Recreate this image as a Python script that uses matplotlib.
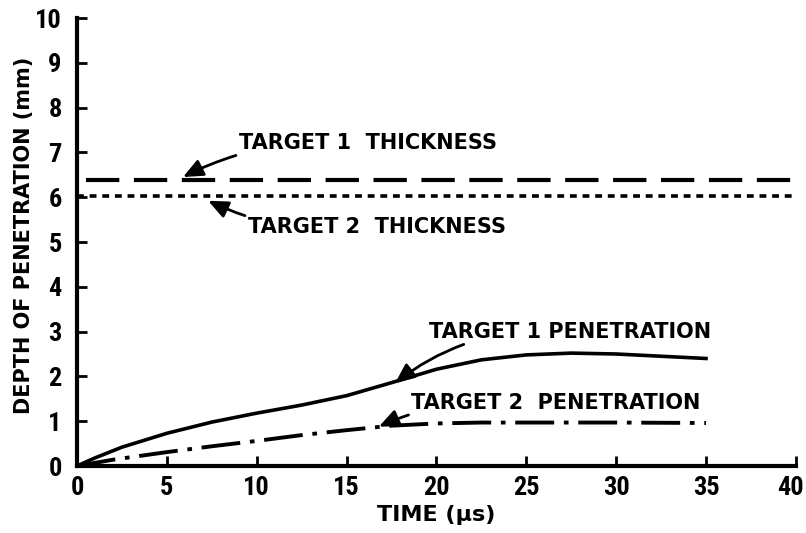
import matplotlib
matplotlib.use("Agg")
import matplotlib.pyplot as plt
from matplotlib.transforms import ScaledTranslation

# values
t1_time = [0, 1, 2.5, 5, 7.5, 10, 12.5, 15, 17.5, 20, 22.5, 25, 27.5, 30, 32.5, 35]
t1_depth = [0, 0.18, 0.42, 0.73, 0.98, 1.18, 1.36, 1.57, 1.86, 2.16, 2.37, 2.48, 2.52, 2.50, 2.45, 2.40]
t2_time = [0, 2, 5, 7.5, 10, 12.5, 15, 17.5, 20, 22.5, 25, 30, 35]
t2_depth = [0, 0.14, 0.31, 0.44, 0.56, 0.69, 0.80, 0.90, 0.95, 0.97, 0.97, 0.97, 0.96]
thick1 = 6.38
thick2 = 6.02
x_ticks = [0, 5, 10, 15, 20, 25, 30, 35, 40]
y_ticks = list(range(0, 11))

TEXT = dict(family=["DejaVu Sans"], weight="bold")
NUM = dict(family=["Roboto Condensed", "Liberation Sans", "DejaVu Sans"], weight="heavy")

fig = plt.figure(figsize=(8.06, 5.33), dpi=100)
ax = fig.add_axes([0.0955, 0.1257, 0.892, 0.8405])

ax.plot([0.5, 40], [thick1, thick1], color="black", lw=3, dashes=(8, 3.5))
ax.plot([0, 40], [thick2, thick2], color="black", lw=2.6, dashes=(1.9, 1.6))
ax.plot(t1_time, t1_depth, color="black", lw=2.6)
ax.plot(t2_time, t2_depth, color="black", lw=2.8, dashes=(10, 2.5, 1.2, 2.5))

ax.set_xlim(0, 40)
ax.set_ylim(0, 10)
ax.set_xticks(x_ticks)
ax.set_yticks(y_ticks)
ax.set_xticklabels([str(v) for v in x_ticks], fontsize=19, **NUM)
ax.set_yticklabels([str(v) for v in y_ticks], fontsize=19, **NUM)
ax.tick_params(direction="in", length=7, width=2)
ax.tick_params(axis="x", pad=7)
ax.tick_params(axis="y", pad=11)
for side in ["top", "right"]:
    ax.spines[side].set_visible(False)
for side in ["left", "bottom"]:
    ax.spines[side].set_linewidth(3)

# last x label sits a little left of its tick, as in the original
last = ax.get_xticklabels()[-1]
last.set_transform(last.get_transform() + ScaledTranslation(-4 / 72, 0, fig.dpi_scale_trans))

ax.set_xlabel("TIME (\u03bcs)", fontsize=16, **TEXT)
ax.xaxis.set_label_coords(0.5, -0.088)
ax.set_ylabel("DEPTH OF PENETRATION (mm)", fontsize=15, **TEXT)
ax.yaxis.set_label_coords(-0.06, 0.515)

arrow = dict(arrowstyle="-|>,head_length=0.8,head_width=0.35", color="black", lw=2, shrinkA=0, shrinkB=0)

ax.annotate("TARGET 1  THICKNESS", xy=(5.9, 6.45), xytext=(9.0, 7.2),
            fontsize=15, va="center", ha="left", **TEXT,
            arrowprops=dict(arrow, connectionstyle="arc3,rad=0.15"))
ax.annotate("TARGET 2  THICKNESS", xy=(7.3, 5.92), xytext=(9.5, 5.33),
            fontsize=15, va="center", ha="left", **TEXT,
            arrowprops=dict(arrow, connectionstyle="arc3,rad=-0.15"))
ax.annotate("TARGET 1 PENETRATION", xy=(17.7, 1.85), xytext=(19.6, 3.0),
            fontsize=15, va="center", ha="left", **TEXT,
            arrowprops=dict(arrow, connectionstyle="arc3,rad=0.2"))
ax.annotate("TARGET 2  PENETRATION", xy=(16.8, 0.88), xytext=(18.6, 1.4),
            fontsize=15, va="center", ha="left", **TEXT,
            arrowprops=dict(arrow, connectionstyle="arc3,rad=0.15"))

fig.savefig("out.png", dpi=100)
